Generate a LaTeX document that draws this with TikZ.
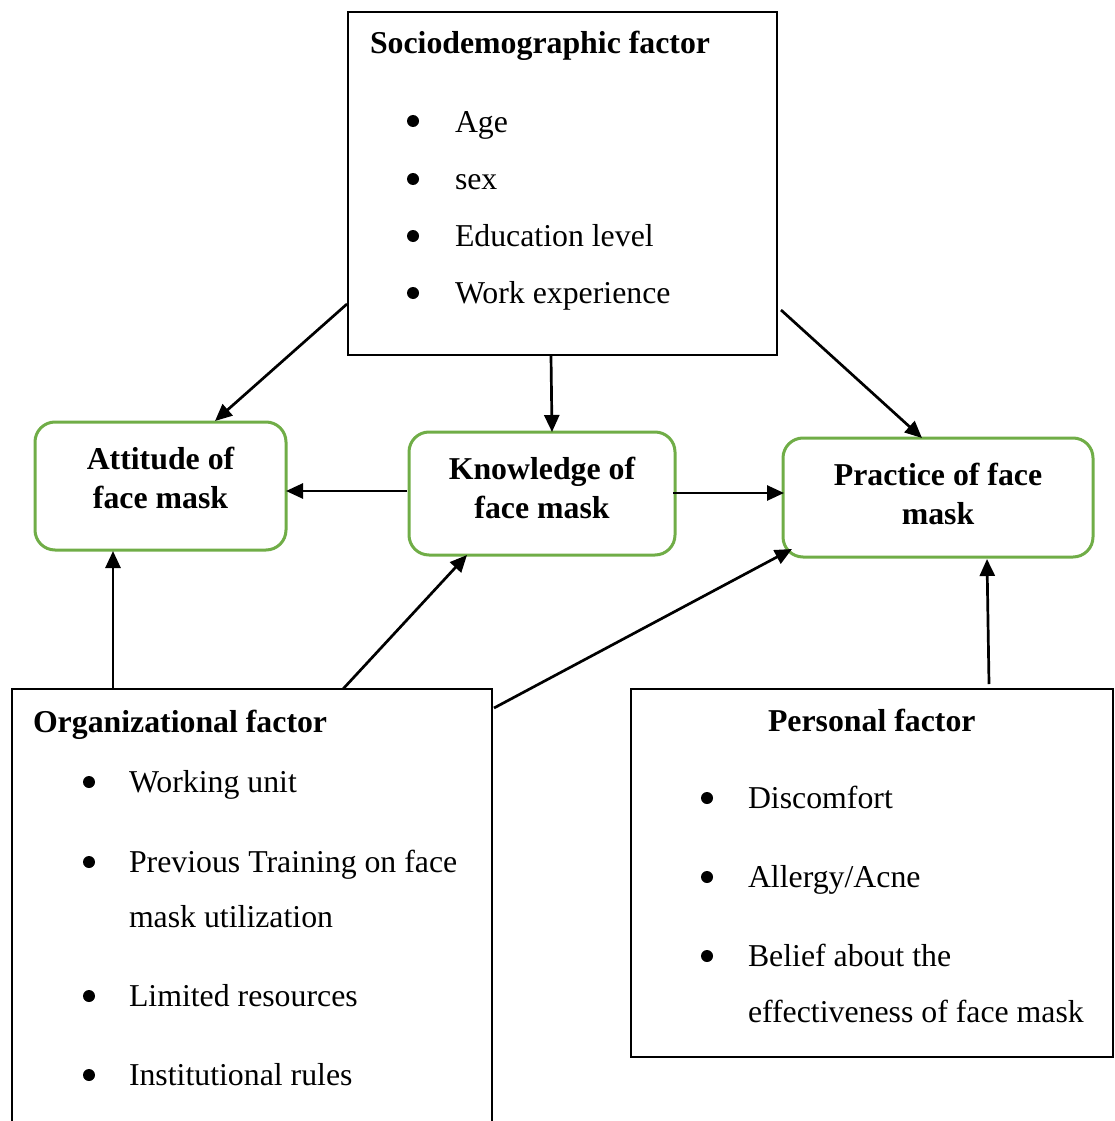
\documentclass[tikz,border=0pt]{standalone}
\usepackage{fontspec}
\setmainfont{Liberation Serif}
\usetikzlibrary{arrows.meta,calc}
\definecolor{boxgreen}{HTML}{70AD47}
\begin{document}
\begin{tikzpicture}[x=1pt,y=-1pt,
  blackbox/.style={draw=black,line width=2.5pt,inner sep=0,outer sep=0},
  openbox/.style={inner sep=0,outer sep=0},
  greenbox/.style={draw=boxgreen,line width=3pt,rounded corners=20pt,inner sep=0,outer sep=0},
  txt/.style={inner sep=0,outer sep=0,anchor=base west,font=\fontsize{31.8}{38}\selectfont},
  btxt/.style={inner sep=0,outer sep=0,anchor=base west,font=\fontsize{31.8}{38}\selectfont\bfseries},
  ctxt/.style={inner sep=0,outer sep=0,anchor=base,font=\fontsize{31.8}{38}\selectfont\bfseries},
  arr/.style={line width=2.7pt,-{Triangle[length=17pt,width=15pt]}},
  bul/.style={circle,fill=black,inner sep=0,outer sep=0,minimum size=12pt}
]
\useasboundingbox (0,0) rectangle (1114,1121);

% boxes
\node[blackbox,minimum width=429pt,minimum height=343pt] (socio) at (562.5,183.5) {};
\node[greenbox,minimum width=251pt,minimum height=128pt] (att) at (160.5,486) {};
\node[greenbox,minimum width=266pt,minimum height=123pt] (know) at (542,493.5) {};
\node[greenbox,minimum width=310pt,minimum height=119pt] (prac) at (938,497.5) {};
\node[openbox,minimum width=480pt,minimum height=440pt] (org) at (252,909) {};
\draw[line width=2.5pt] (org.south west) -- (org.north west) -- (org.north east) -- (org.south east);
\node[blackbox,minimum width=482pt,minimum height=368pt] (pers) at (872,873) {};

% sociodemographic text
\node[btxt] (sociot) at (370,54) {Sociodemographic factor};
\node[bul] (sb1) at (413,121) {};
\node[txt] (s1) at (455,132) {Age};
\node[bul] (sb2) at (413,179) {};
\node[txt] (s2) at (455,189) {sex};
\node[bul] (sb3) at (413,236) {};
\node[txt] (s3) at (455,246) {Education level};
\node[bul] (sb4) at (413,293) {};
\node[txt] (s4) at (455,303) {Work experience};

% green box texts
\node[ctxt] (att1) at (160.5,469) {Attitude of};
\node[ctxt] (att2) at (160.5,508) {face mask};
\node[ctxt] (kn1) at (542,479) {Knowledge of};
\node[ctxt] (kn2) at (542,518) {face mask};
\node[ctxt] (pr1) at (938,485) {Practice of face};
\node[ctxt] (pr2) at (938,524) {mask};

% organizational text
\node[btxt] (orgt) at (33,732) {Organizational factor};
\node[bul] (ob1) at (89,782) {};
\node[txt] (o1) at (129,792) {Working unit};
\node[bul] (ob2) at (89,862) {};
\node[txt] (o2) at (129,872) {Previous Training on face};
\node[txt] (o2b) at (129,927) {mask utilization};
\node[bul] (ob3) at (89,996) {};
\node[txt] (o3) at (129,1006) {Limited resources};
\node[bul] (ob4) at (89,1075) {};
\node[txt] (o4) at (129,1085) {Institutional rules};

% personal text
\node[btxt] (perst) at (768,731) {Personal factor};
\node[bul] (pb1) at (707,798) {};
\node[txt] (p1) at (748,808) {Discomfort};
\node[bul] (pb2) at (707,877) {};
\node[txt] (p2) at (748,887) {Allergy/Acne};
\node[bul] (pb3) at (707,956) {};
\node[txt] (p3) at (748,966) {Belief about the};
\node[txt] (p3b) at (748,1022) {effectiveness of face mask};

% arrows
\draw[arr] ($(socio.south west)+(-1,-51)$) -- ($(att.north west)+(180,-1)$);
\draw[arr] ($(socio.south)+(-11.5,1)$) -- ($(know.north)+(10,0)$);
\draw[arr] ($(socio.south east)+(4,-45)$) -- ($(prac.north west)+(139,0)$);
\draw[arr] ($(know.west)+(-2,-2.5)$) -- ($(att.east)+(0,5)$);
\draw[arr] ($(know.east)+(-2,-0.5)$) -- ($(prac.west)+(1,-4.5)$);
\draw[arr] ($(org.north west)+(101,0)$) -- ($(att.south west)+(78,1)$);
\draw[arr] ($(org.north west)+(331,0)$) -- ($(know.south west)+(58,0)$);
\draw[arr] ($(org.north east)+(2,19)$) -- ($(prac.south west)+(9,-8)$);
\draw[arr] ($(pers.north)+(117,-5)$) -- ($(prac.south)+(49,2)$);
\end{tikzpicture}
\end{document}
